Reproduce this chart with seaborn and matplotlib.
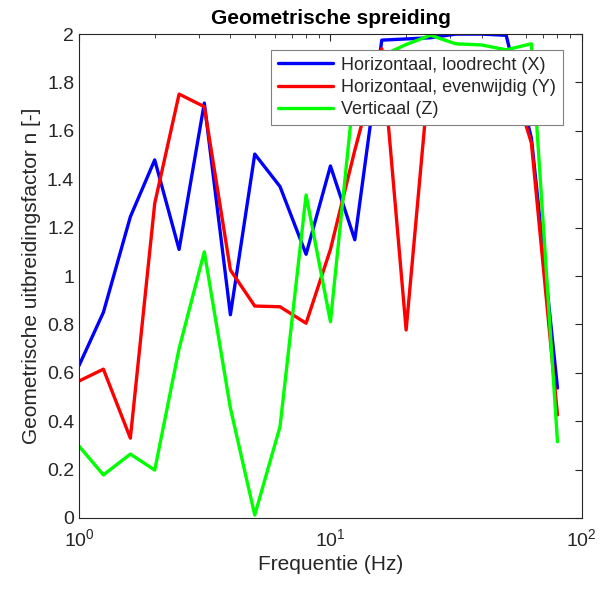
import numpy as np
import pandas as pd
import matplotlib
matplotlib.use("Agg")
import matplotlib.pyplot as plt
import seaborn as sns
from matplotlib.ticker import FixedLocator, FormatStrFormatter, LogLocator

freq = [1, 1.25, 1.6, 2, 2.5, 3.15, 4, 5, 6.3, 8, 10, 12.5, 16, 20, 25, 31.5, 40, 50, 63, 80]
x_vals = [0.63, 0.85, 1.245, 1.48, 1.11, 1.715, 0.84, 1.504, 1.37, 1.09, 1.455, 1.15,
          1.975, 1.98, 1.985, 2.0, 2.0, 1.995, 1.57, 0.537]
y_vals = [0.566, 0.615, 0.33, 1.30, 1.752, 1.70, 1.025, 0.876, 0.873, 0.805, 1.11, 1.52,
          1.94, 0.777, 1.89, 1.90, 1.90, 1.89, 1.55, 0.426]
z_vals = [0.297, 0.178, 0.264, 0.198, 0.70, 1.10, 0.454, 0.012, 0.377, 1.335, 0.811, 1.80,
          1.91, 1.957, 1.995, 1.96, 1.955, 1.935, 1.96, 0.315]
series_names = ["Horizontaal, loodrecht (X)", "Horizontaal, evenwijdig (Y)", "Verticaal (Z)"]
colors = ["#0000ff", "#ff0000", "#00ff00"]

df = pd.DataFrame({
    "Frequentie": freq * 3,
    "n": x_vals + y_vals + z_vals,
    "Richting": [series_names[0]] * len(freq) + [series_names[1]] * len(freq) + [series_names[2]] * len(freq),
})

sns.set_style("white")
plt.rcParams["font.family"] = ["Liberation Sans", "DejaVu Sans"]
plt.rcParams["mathtext.fontset"] = "custom"
plt.rcParams["mathtext.rm"] = "Liberation Sans"
plt.rcParams["mathtext.it"] = "Liberation Sans:italic"

fig = plt.figure(figsize=(6.08, 5.93), dpi=100)
ax = fig.add_axes([0.130, 0.1265, 0.827, 0.816])

sns.lineplot(data=df, x="Frequentie", y="n", hue="Richting", palette=colors,
             linewidth=2.4, ax=ax, legend=True, sort=False)

ax.set_xscale("log")
ax.set_xlim(1, 100)
ax.set_ylim(0, 2)
ax.yaxis.set_major_locator(FixedLocator(np.round(np.arange(0, 2.01, 0.2), 1)))
ax.yaxis.set_major_formatter(FormatStrFormatter("%g"))
ax.xaxis.set_major_locator(LogLocator(base=10))
ax.xaxis.set_minor_locator(LogLocator(base=10, subs=np.arange(2, 10)))

edge = "#262626"
for s in ax.spines.values():
    s.set_color(edge)
    s.set_linewidth(0.8)
ax.tick_params(axis="both", which="both", direction="in", top=True, right=True,
               color=edge, labelcolor=edge, labelsize=14)
ax.tick_params(axis="both", which="major", length=5)
ax.tick_params(axis="x", which="minor", length=3)
ax.tick_params(axis="x", which="major", pad=7)

ax.set_xlabel("Frequentie (Hz)", fontsize=15, color=edge)
ax.set_ylabel("Geometrische uitbreidingsfactor n [-]", fontsize=15, color=edge)
ax.set_title("Geometrische spreiding", fontsize=15, fontweight="bold", color="black", pad=7)

leg = ax.legend(loc="upper right", bbox_to_anchor=(0.962, 0.968), fontsize=13,
                frameon=True, fancybox=False, framealpha=1, edgecolor="#808080",
                handlelength=3.0, handletextpad=0.45, borderpad=0.4, labelspacing=0.28,
                borderaxespad=0)
leg.get_frame().set_linewidth(0.8)
for line in leg.get_lines():
    line.set_linewidth(2.4)

fig.savefig("out.png", dpi=100, facecolor="white")
